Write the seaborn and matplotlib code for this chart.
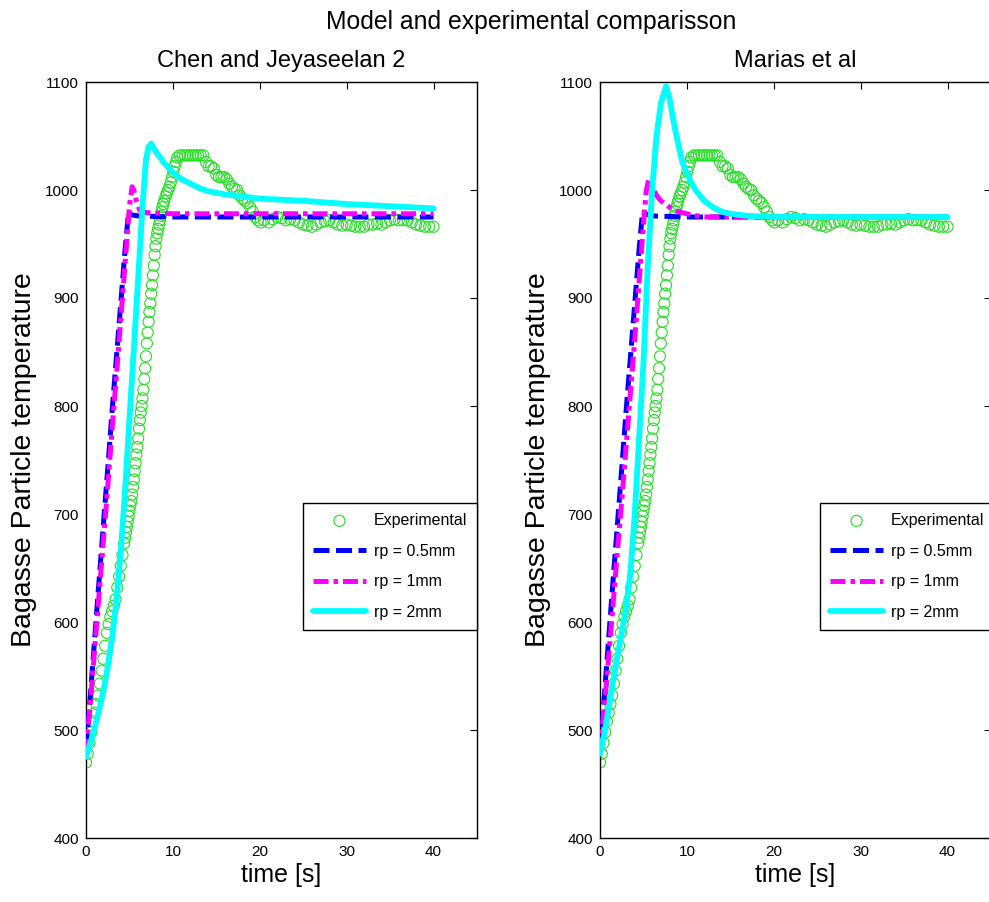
import numpy as np
import pandas as pd
import matplotlib
matplotlib.use("Agg")
import matplotlib.pyplot as plt
import seaborn as sns

# ---------------- data ----------------
exp_t = [0.0, 0.2, 0.4, 0.6, 0.8, 1.0, 1.2, 1.4, 1.6, 1.8, 2.0, 2.2, 2.4, 2.6, 2.8,
         3.0, 3.2, 3.4, 3.6, 3.8, 4.0, 4.2, 4.4,
         4.5, 4.6, 4.7, 4.8, 4.9, 5.0, 5.1, 5.2, 5.3, 5.4, 5.5, 5.6, 5.7, 5.8, 5.9,
         6.0, 6.1, 6.2, 6.3, 6.4, 6.5, 6.6, 6.7, 6.8, 6.9, 7.0, 7.1, 7.2, 7.3, 7.4,
         7.5, 7.6, 7.7, 7.8, 7.9, 8.0, 8.1, 8.2, 8.3, 8.4, 8.5, 8.6, 8.7, 8.8, 8.9,
         9.0, 9.15, 9.3, 9.45, 9.6, 9.75, 9.9, 10.05, 10.2, 10.35, 10.5,
         10.8, 11.1, 11.4, 11.7, 12.0, 12.3, 12.6,
         12.9, 13.2, 13.5, 13.8, 14.1, 14.4, 14.7, 15.0, 15.3, 15.6, 15.9, 16.2,
         16.5, 16.8, 17.1, 17.4, 17.7, 18.0, 18.3, 18.6, 18.9, 19.2, 19.5, 19.8,
         20.1, 20.5, 21.0, 21.5, 22.0, 22.5, 23.0, 23.5, 24.0, 24.5, 25.0, 25.5,
         26.0, 26.5, 27.0, 27.5, 28.0, 28.5, 29.0, 29.5, 30.0, 30.5, 31.0, 31.5,
         32.0, 32.5, 33.0, 33.5, 34.0, 34.5, 35.0, 35.5, 36.0, 36.5, 37.0, 37.5,
         38.0, 38.5, 39.0, 39.5, 40.0]
exp_T = [470, 478, 488, 498, 508, 516, 524, 532, 543, 555, 566, 578, 590, 598, 605,
         610, 615, 621, 632, 642, 652, 662, 673,
         678, 683, 688, 693, 698, 703, 708, 712, 718, 725, 732, 740, 747, 755, 762,
         770, 779, 787, 794, 800, 807, 815, 825, 835, 846, 858, 868, 878, 887, 895,
         904, 912, 921, 930, 940, 948, 955, 960, 964, 968, 972, 976, 980, 984, 987,
         990, 994, 997, 1000, 1003, 1007, 1012, 1017, 1022, 1026, 1030,
         1032, 1032, 1032, 1032, 1032, 1032, 1032,
         1032, 1032, 1032, 1026, 1022, 1022, 1020, 1014, 1012, 1012, 1012, 1010,
         1006, 1003, 1001, 1000, 995, 992, 990, 988, 984, 980, 975, 972,
         970, 972, 970, 973, 975, 974, 972, 973, 972, 970, 968, 967,
         966, 968, 970, 971, 972, 970, 968, 967, 968, 967, 966, 966,
         966, 968, 968, 969, 968, 970, 972, 973, 972, 972, 972, 970,
         968, 967, 966, 966, 966]

# Chen and Jeyaseelan 2 model
chen_05_t = [0, 0.5, 1.0, 1.5, 2.0, 2.5, 3.0, 3.5, 4.0, 4.5, 4.9, 5.2, 6, 10, 20, 30, 40]
chen_05_T = [482, 532, 585, 638, 690, 742, 795, 845, 895, 945, 980, 977, 976, 975, 975, 975, 975]
chen_1_t = [0, 0.5, 1.0, 1.5, 2.0, 2.5, 3.0, 3.5, 4.0, 4.5, 5.0, 5.3, 5.5, 5.8, 6.2, 7, 10, 20, 30, 40]
chen_1_T = [478, 525, 575, 625, 675, 725, 778, 828, 880, 932, 985, 1003, 1000, 990, 981, 979, 978, 978, 978, 978]
chen_2_t = [0, 0.5, 1.0, 1.5, 2.0, 2.5, 3.0, 3.5, 4.0, 4.5, 5.0, 5.5, 6.0, 6.5, 6.9, 7.2,
            7.5, 8.0, 9, 10, 11, 12, 13, 14, 16, 18, 20, 25, 30, 35, 40]
chen_2_T = [475, 488, 502, 518, 536, 558, 585, 620, 665, 722, 788, 852, 918, 985, 1028, 1040,
            1043, 1036, 1025, 1016, 1010, 1006, 1002, 999, 996, 994, 992, 990, 987, 985, 983]

# Marias et al model
mar_05_t = [0, 0.5, 1.0, 1.5, 2.0, 2.5, 3.0, 3.5, 4.0, 4.5, 4.9, 5.2, 6, 10, 20, 30, 40]
mar_05_T = [482, 532, 585, 638, 690, 742, 795, 845, 895, 945, 980, 978, 976, 975, 975, 975, 975]
mar_1_t = [0, 0.5, 1.0, 1.5, 2.0, 2.5, 3.0, 3.5, 4.0, 4.5, 5.0, 5.3, 5.6, 6.0, 6.5, 7.0,
           8.0, 9.0, 10.5, 12, 20, 30, 40]
mar_1_T = [478, 522, 568, 616, 665, 712, 762, 812, 862, 915, 968, 998, 1010, 1003, 995, 990,
           984, 980, 977, 975, 975, 975, 975]
mar_2_t = [0, 0.5, 1.0, 1.5, 2.0, 2.5, 3.0, 3.5, 4.0, 4.5, 5.0, 5.5, 6.0, 6.5, 7.0, 7.6,
           8.0, 8.5, 8.8, 9.5, 10.3, 11, 12, 13, 14, 15, 17, 20, 30, 40]
mar_2_T = [478, 497, 520, 545, 568, 590, 613, 645, 700, 770, 840, 930, 1000, 1050, 1080, 1096,
           1085, 1062, 1050, 1025, 1010, 1000, 990, 984, 980, 978, 976, 975, 975, 975]

titles = ["Chen and Jeyaseelan 2", "Marias et al"]
labels = ["Experimental", "rp = 0.5mm", "rp = 1mm", "rp = 2mm"]
x_ticks = [0, 10, 20, 30, 40]
y_ticks = [400, 500, 600, 700, 800, 900, 1000, 1100]

# ---------------- styling ----------------
sns.set_style("white")
plt.rcParams['font.family'] = ['Liberation Sans', 'DejaVu Sans']
plt.rcParams['text.color'] = 'black'
plt.rcParams['axes.labelcolor'] = 'black'
plt.rcParams['xtick.color'] = 'black'
plt.rcParams['ytick.color'] = 'black'

GREEN = "#22e022"
BLUE = "#0000ff"
MAGENTA = "#ff00ff"
CYAN = "#00ffff"

fig = plt.figure(figsize=(9.89, 9.02), dpi=100)
W, H = 989, 902
ax_l = fig.add_axes([86 / W, 1 - 838 / H, 391 / W, 756 / H])
ax_r = fig.add_axes([600 / W, 1 - 838 / H, 391 / W, 756 / H])

models = [
    ((chen_05_t, chen_05_T), (chen_1_t, chen_1_T), (chen_2_t, chen_2_T)),
    ((mar_05_t, mar_05_T), (mar_1_t, mar_1_T), (mar_2_t, mar_2_T)),
]
leg_x = [0.555, 0.563]

for ax, title, (m05, m1, m2), lx in zip([ax_l, ax_r], titles, models, leg_x):
    sns.scatterplot(x=exp_t, y=exp_T, ax=ax, marker='o', s=64,
                    facecolor='none', edgecolor=GREEN, linewidth=0.8,
                    label=labels[0], zorder=2)
    sns.lineplot(x=m05[0], y=m05[1], ax=ax, color=BLUE, lw=3.6,
                 sort=False, estimator=None, label=labels[1], zorder=3)
    ax.lines[-1].set_dashes([3.2, 1.3])
    sns.lineplot(x=m1[0], y=m1[1], ax=ax, color=MAGENTA, lw=3.6,
                 sort=False, estimator=None, label=labels[2], zorder=4)
    ax.lines[-1].set_dashes([3.0, 1.0, 0.9, 1.0])
    sns.lineplot(x=m2[0], y=m2[1], ax=ax, color=CYAN, lw=4.2,
                 sort=False, estimator=None, label=labels[3], zorder=5)

    ax.set_xlim(0, 45)
    ax.set_ylim(400, 1100)
    ax.set_xticks(x_ticks)
    ax.set_yticks(y_ticks)
    ax.tick_params(direction='in', length=5, width=0.8, top=True, right=True,
                   labelsize=11, colors='black', pad=5)
    for sp in ax.spines.values():
        sp.set_visible(True)
        sp.set_color('black')
        sp.set_linewidth(1.0)
    ax.set_xlabel("time [s]", fontsize=18, labelpad=3, color='black')
    ax.set_ylabel("Bagasse Particle temperature", fontsize=20.5, labelpad=6, color='black')
    ax.set_title(title, fontsize=17, pad=11, color='black')

    leg = ax.legend(loc='upper left', bbox_to_anchor=(lx, 0.443), borderaxespad=0,
                    fontsize=11.5, frameon=True, fancybox=False, edgecolor='black',
                    framealpha=1, handlelength=3.32, handletextpad=0.5,
                    labelspacing=0.98, borderpad=0.62)
    leg.get_frame().set_linewidth(1.0)
    for t in leg.get_texts():
        t.set_color('black')

fig.text(531 / W, 1 - 22 / H, "Model and experimental comparisson",
         ha='center', va='center', fontsize=17.8, color='black')

fig.savefig("out.png", dpi=100)
